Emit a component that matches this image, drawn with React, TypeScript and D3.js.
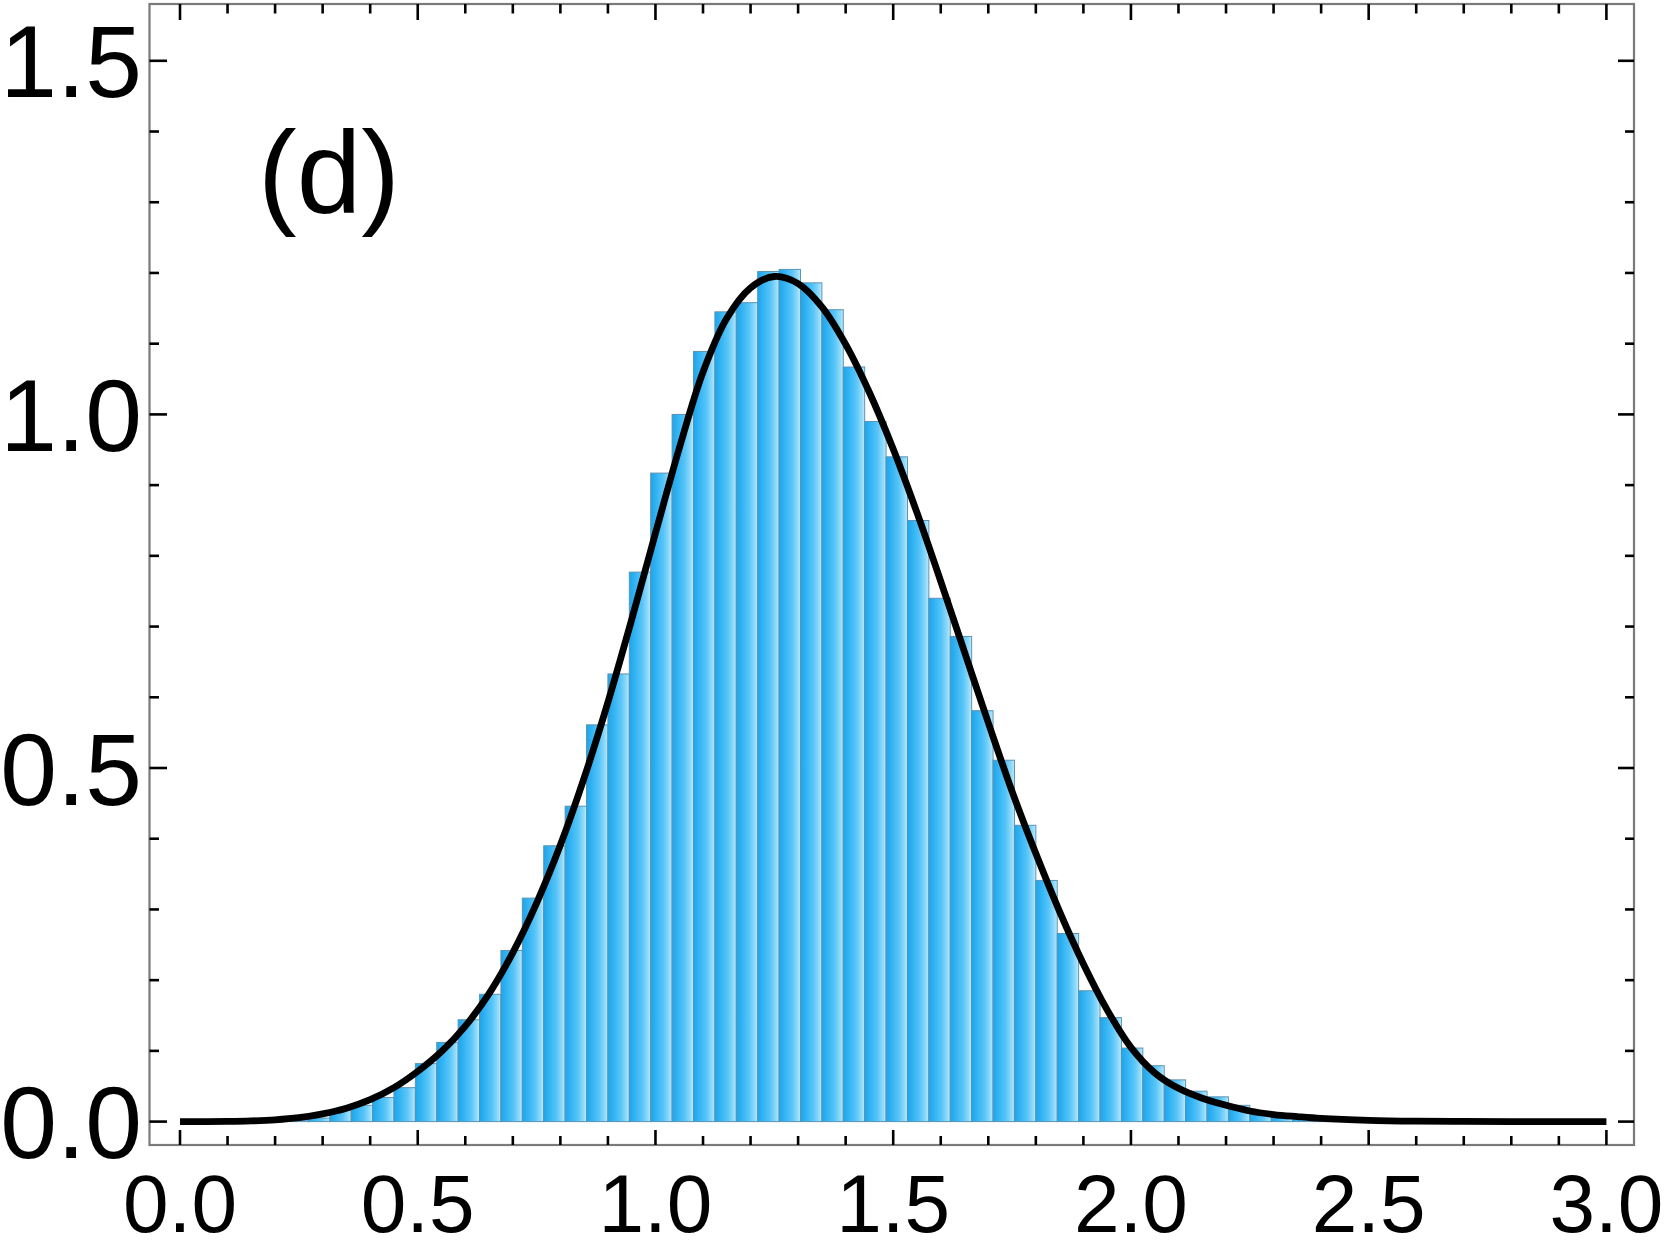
import React, { useEffect, useRef } from 'react';
import * as d3 from 'd3';

// histogram bins (left edge, width 0.045) and their heights (pdf)
const binWidth = 0.045;
const binLefts = [
  0.225, 0.27, 0.315, 0.36, 0.405, 0.45, 0.495, 0.54, 0.585, 0.63,
  0.675, 0.72, 0.765, 0.81, 0.855, 0.9, 0.945, 0.99, 1.035, 1.08,
  1.125, 1.17, 1.215, 1.26, 1.305, 1.35, 1.395, 1.44, 1.485, 1.53,
  1.575, 1.62, 1.665, 1.71, 1.755, 1.8, 1.845, 1.89, 1.935, 1.98,
  2.025, 2.07, 2.115, 2.16, 2.205, 2.25, 2.295, 2.34, 2.385,
];
const binHeights = [
  0.002, 0.005, 0.016, 0.023, 0.034, 0.048, 0.082, 0.112, 0.144, 0.18,
  0.242, 0.316, 0.39, 0.446, 0.561, 0.633, 0.777, 0.917, 1.0, 1.089,
  1.145, 1.158, 1.202, 1.205, 1.186, 1.148, 1.067, 0.99, 0.94, 0.85,
  0.74, 0.686, 0.581, 0.511, 0.419, 0.341, 0.266, 0.185, 0.147, 0.104,
  0.079, 0.059, 0.043, 0.035, 0.023, 0.014, 0.008, 0.005, 0.002,
];

// fitted density curve
const curveX = [
  0, 0.1, 0.15, 0.2, 0.25, 0.3, 0.35, 0.4, 0.45, 0.5, 0.55, 0.6, 0.65, 0.7,
  0.75, 0.8, 0.85, 0.9, 0.95, 1.0, 1.05, 1.1, 1.15, 1.2, 1.25, 1.3, 1.35,
  1.4, 1.45, 1.5, 1.55, 1.6, 1.65, 1.7, 1.75, 1.8, 1.85, 1.9, 1.95, 2.0,
  2.05, 2.1, 2.15, 2.2, 2.25, 2.3, 2.35, 2.4, 2.5, 2.6, 2.7, 2.8, 2.9, 3.0,
];
const curveY = [
  0, 0.0003, 0.001, 0.0025, 0.0055, 0.011, 0.019, 0.031, 0.048, 0.071,
  0.099, 0.135, 0.181, 0.239, 0.309, 0.391, 0.486, 0.593, 0.71, 0.832,
  0.952, 1.06, 1.136, 1.179, 1.195, 1.185, 1.152, 1.099, 1.031, 0.951,
  0.861, 0.764, 0.664, 0.564, 0.467, 0.379, 0.297, 0.223, 0.158, 0.105,
  0.069, 0.047, 0.033, 0.023, 0.015, 0.01, 0.007, 0.0045, 0.0018, 0.0006,
  0.0002, 0, 0, 0,
];

const xTickLabels = ['0.0', '0.5', '1.0', '1.5', '2.0', '2.5', '3.0'];
const yTickLabels = ['0.0', '0.5', '1.0', '1.5'];
const panelLabel = '(d)';

const W = 1667;
const H = 1259;
const frame = { left: 149.5, right: 1634, top: 4, bottom: 1145 };
const font = '"Liberation Sans", Arial, Helvetica, sans-serif';

const App = () => {
  const svgRef = useRef<SVGSVGElement>(null);

  useEffect(() => {
    const svg = d3.select(svgRef.current);
    svg.selectAll('*').remove();

    const x = d3.scaleLinear().domain([0, 3]).range([180, 1606.4]);
    const y = d3.scaleLinear().domain([0, 1.5]).range([1121.6, 60.8]);

    // gradient for the bars: saturated on the left, pale on the right
    const grad = svg.append('defs').append('linearGradient')
      .attr('id', 'barGrad')
      .attr('x1', '0%').attr('y1', '0%')
      .attr('x2', '100%').attr('y2', '0%');
    [
      [0, '#1fa5ea'],
      [0.2, '#2cb0f2'],
      [0.6, '#58c5f8'],
      [0.88, '#95dcfb'],
      [1, '#c2effe'],
    ].forEach(([o, c]) => {
      grad.append('stop').attr('offset', o as number).attr('stop-color', c as string);
    });

    svg.append('rect')
      .attr('width', W).attr('height', H).attr('fill', 'white');

    // bars
    svg.append('g')
      .selectAll('rect')
      .data(binLefts)
      .join('rect')
      .attr('x', d => x(d))
      .attr('width', d => x(d + binWidth) - x(d))
      .attr('y', (d, i) => y(binHeights[i]))
      .attr('height', (d, i) => y(0) - y(binHeights[i]))
      .attr('fill', 'url(#barGrad)')
      .attr('stroke', '#5a93b3')
      .attr('stroke-width', 1);

    // curve
    const line = d3.line<number>()
      .curve(d3.curveCatmullRom.alpha(0.5))
      .x(d => x(d))
      .y((d, i) => y(curveY[i]));

    svg.append('path')
      .datum(curveX)
      .attr('fill', 'none')
      .attr('stroke', 'black')
      .attr('stroke-width', 6.8)
      .attr('stroke-linejoin', 'round')
      .attr('d', line);

    // frame
    svg.append('rect')
      .attr('x', frame.left)
      .attr('y', frame.top)
      .attr('width', frame.right - frame.left)
      .attr('height', frame.bottom - frame.top)
      .attr('fill', 'none')
      .attr('stroke', '#7a7a7a')
      .attr('stroke-width', 2.2);

    const ticks = svg.append('g').attr('stroke', 'black').attr('stroke-width', 2.6);
    const isMajor = (v: number) => Math.abs(v * 2 - Math.round(v * 2)) < 1e-6;

    // x ticks on bottom and top, pointing inward
    d3.range(0, 31).map(i => i / 10).forEach(v => {
      const len = isMajor(v) ? 15 : 9;
      ticks.append('line')
        .attr('x1', x(v)).attr('x2', x(v))
        .attr('y1', frame.bottom).attr('y2', frame.bottom - len);
      ticks.append('line')
        .attr('x1', x(v)).attr('x2', x(v))
        .attr('y1', frame.top).attr('y2', frame.top + (isMajor(v) ? 16 : 9.5));
    });

    // y ticks on left and right
    d3.range(0, 16).map(i => i / 10).forEach(v => {
      ticks.append('line')
        .attr('x1', frame.left).attr('x2', frame.left + (isMajor(v) ? 17.5 : 9.5))
        .attr('y1', y(v)).attr('y2', y(v));
      ticks.append('line')
        .attr('x1', frame.right).attr('x2', frame.right - (isMajor(v) ? 16 : 9))
        .attr('y1', y(v)).attr('y2', y(v));
    });

    // tick labels
    svg.append('g')
      .selectAll('text')
      .data(xTickLabels)
      .join('text')
      .attr('x', d => x(+d))
      .attr('y', 1232)
      .attr('text-anchor', 'middle')
      .attr('font-family', font)
      .attr('font-size', 82)
      .attr('fill', 'black')
      .text(d => d);

    svg.append('g')
      .selectAll('text')
      .data(yTickLabels)
      .join('text')
      .attr('x', 142)
      .attr('y', d => y(+d) + 36.5)
      .attr('text-anchor', 'end')
      .attr('font-family', font)
      .attr('font-size', 102)
      .attr('fill', 'black')
      .text(d => d);

    svg.append('text')
      .attr('x', 258)
      .attr('y', 213)
      .attr('font-family', font)
      .attr('font-size', 116)
      .attr('fill', 'black')
      .text(panelLabel);
  }, []);

  return (
    <svg
      ref={svgRef}
      width={W}
      height={H}
      style={{ position: 'absolute', left: 0, top: 0, display: 'block' }}
    />
  );
};

export default App;
